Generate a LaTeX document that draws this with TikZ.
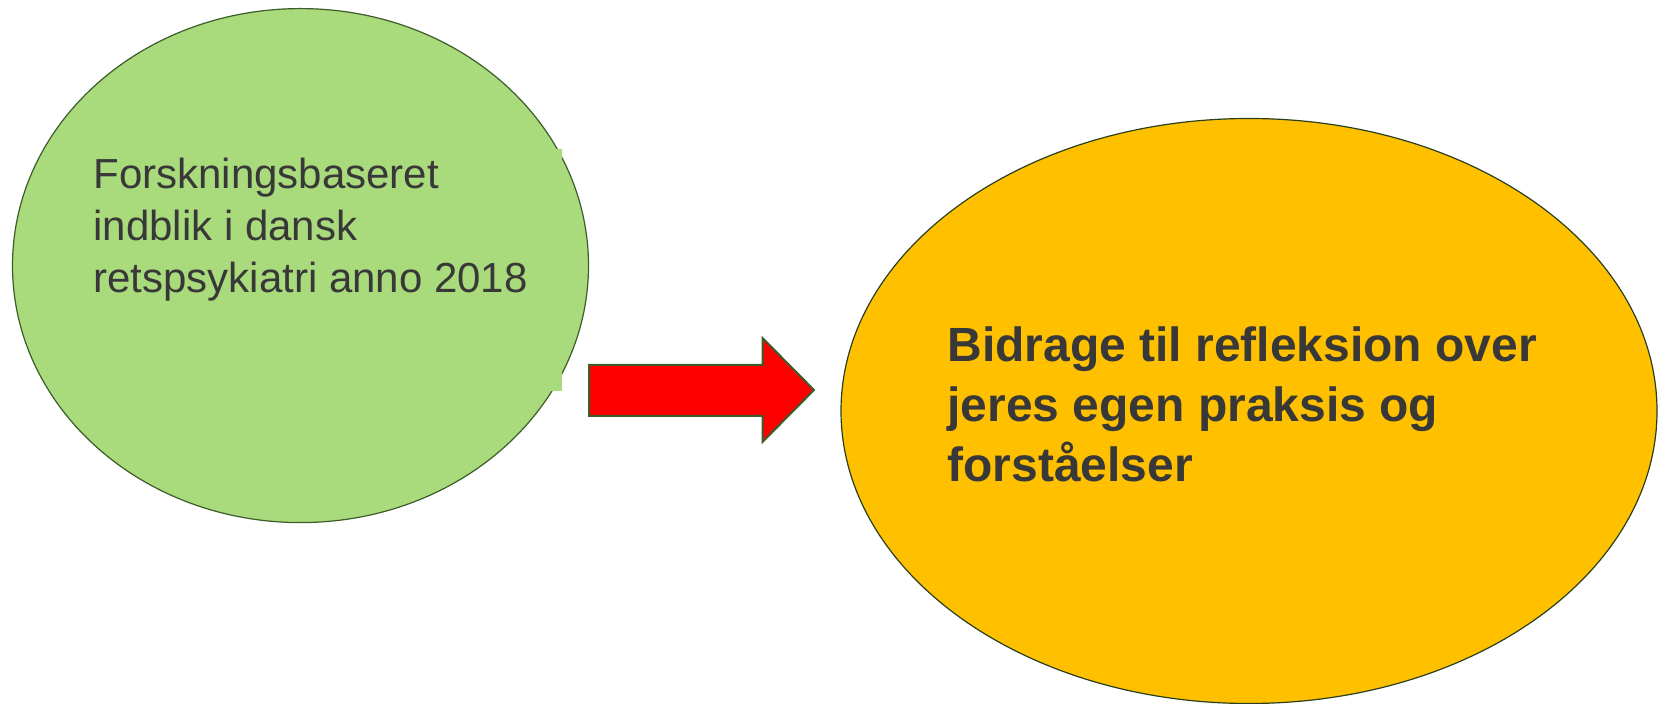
\documentclass[tikz,border=0pt]{standalone}
\usepackage{fontspec}
\setmainfont{Liberation Sans}
\usetikzlibrary{shapes.geometric}
\definecolor{leafgreen}{HTML}{A9DA7B}
\definecolor{darkleaf}{HTML}{3C5C2A}
\definecolor{amber}{HTML}{FFC000}
\definecolor{inkgray}{HTML}{383838}
\tikzset{
  bubble/.style = {ellipse, inner sep = 0pt, outer sep = 0pt, line width = 0.6pt},
  bodytext/.style = {anchor = base west, align = left, inner sep = 0pt, text = inkgray}
}
\begin{document}
\begin{tikzpicture}[x = 0.5pt, y = -0.5pt]
\useasboundingbox (0,0) rectangle (1659,704);
\node (research) [bubble, fill = leafgreen, draw = darkleaf, minimum width = 288pt, minimum height = 257pt] at (300.5,265.6) {};
\fill [leafgreen] (70,149) rectangle (562,391);
\node (reflection) [bubble, fill = amber, draw = darkleaf!70!black, minimum width = 408pt, minimum height = 292.5pt] at (1249,411) {};
\draw [fill = red, draw = darkleaf, line width = 1pt] (589,365) -- (762.5,365) -- (762.5,338) -- (814,390) -- (762.5,442) -- (762.5,416) -- (589,416) -- cycle;
% base anchor sits on the last line
\node (researchtext) [bodytext, font = \fontsize{21pt}{26pt}\selectfont] at (93,293) {Forskningsbaseret\\indblik i dansk\\retspsykiatri anno 2018};
\node (reflectiontext) [bodytext, font = \fontsize{24pt}{30pt}\selectfont\bfseries] at (947,482) {Bidrage til refleksion over\\jeres egen praksis og\\forståelser};
\end{tikzpicture}
\end{document}
